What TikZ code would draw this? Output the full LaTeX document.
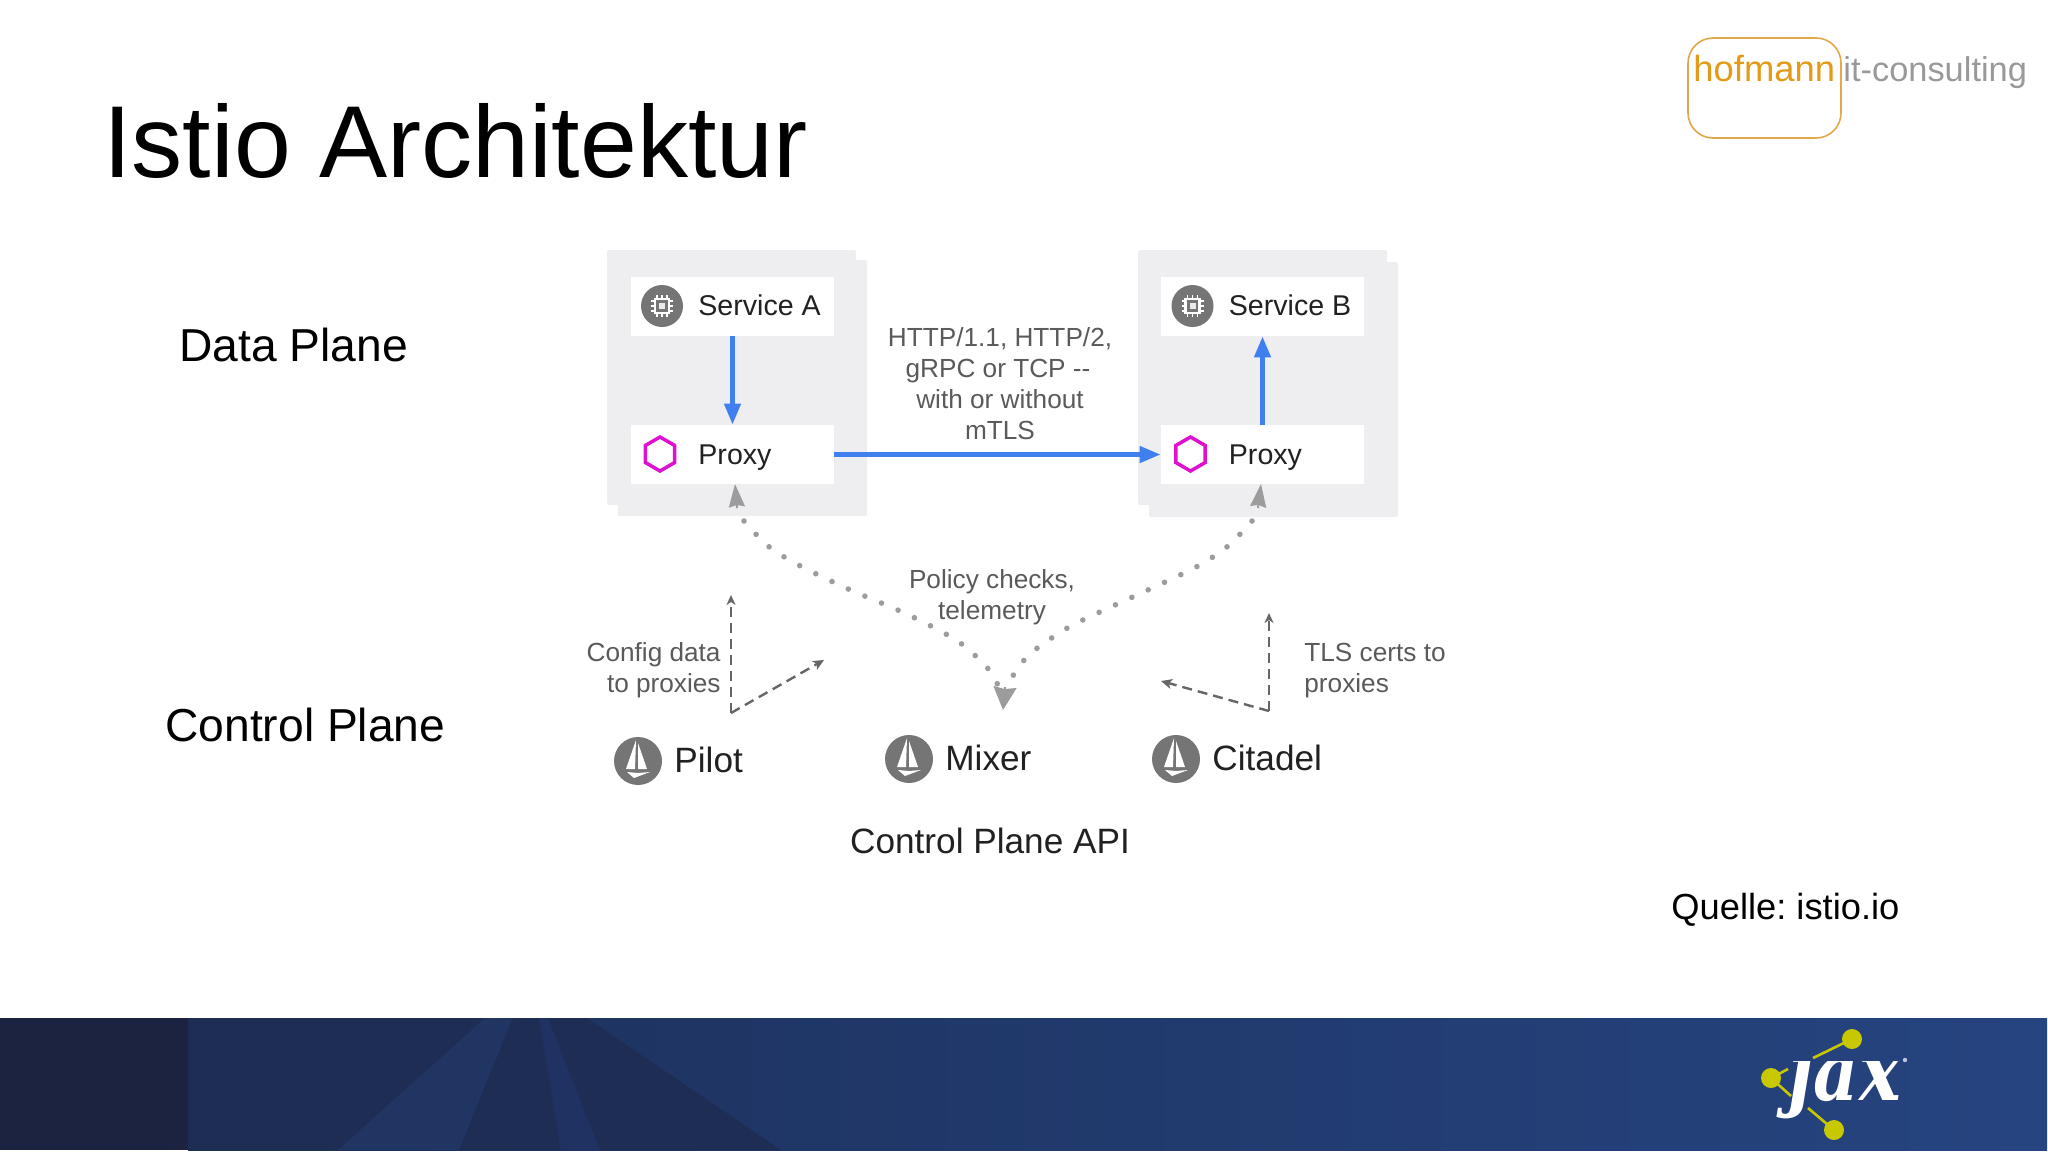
\documentclass[tikz,border=0pt]{standalone}
\usepackage{fontspec}
\setmainfont{Liberation Sans}
\newfontfamily\jaxfont{DejaVu Serif}
\usetikzlibrary{arrows.meta,shadings}
\frenchspacing
\definecolor{plate}{HTML}{EEEEF0}
\definecolor{bluearr}{HTML}{4080EE}
\definecolor{grayarr}{HTML}{9C9C9C}
\definecolor{dashgray}{HTML}{666666}
\definecolor{icongray}{HTML}{757575}
\definecolor{hexmag}{HTML}{E010D0}
\definecolor{inktext}{HTML}{212121}
\definecolor{softtext}{HTML}{5A5A5A}
\definecolor{logoor}{HTML}{E39A17}
\definecolor{logoline}{HTML}{E0A84A}
\definecolor{logogray}{HTML}{999999}
\definecolor{jaxyel}{HTML}{C8C800}
\definecolor{bandL}{HTML}{1C305A}
\definecolor{bandR}{HTML}{264480}
\definecolor{bandA}{HTML}{1B2340}
\definecolor{bandB}{HTML}{1E2D54}
\definecolor{bandC}{HTML}{203561}
\definecolor{bandD}{HTML}{1E2D53}
\definecolor{bandE}{HTML}{203261}
\definecolor{jaxdot}{HTML}{BBC4E0}
\newcommand{\fsz}[1]{\fontsize{#1}{#1}\selectfont}
\tikzset{
  platebox/.style={fill=plate,rounded corners=1pt},
  cardbox/.style={fill=white,inner sep=0pt,minimum width=101.5pt,minimum height=29.5pt},
  lbl/.style={inner sep=0pt,anchor=base west},
  slidelbl/.style={lbl,text=black,font=\fsz{23.1}},
  svclbl/.style={lbl,text=inktext,font=\fsz{14.3}},
  ctrllbl/.style={lbl,text=inktext,font=\fsz{17.6}},
  softlbl/.style={inner sep=0pt,text=softtext,font=\fsz{13.1}},
  bluearrow/.style={draw=bluearr,line width=2.3pt,-{Triangle[length=10.5pt,width=8pt]}},
  grayhead/.style={draw=grayarr,line width=1pt,-{Stealth[length=11.5pt,width=#1,inset=1pt]}},
  dotline/.style={draw=grayarr,line width=2.8pt,line cap=round,dash pattern=on 0pt off 9pt},
  dashthin/.style={draw=dashgray,line width=.8pt,dash pattern=on 5pt off 3pt,-{Stealth[length=5pt,width=4.5pt,inset=1.5pt]}},
  dashthick/.style={draw=dashgray,line width=1.2pt,dash pattern=on 5pt off 3pt,-{Stealth[length=5.5pt,width=5pt,inset=1.5pt]}},
  boaticon/.pic={
    \fill[icongray] (0,0) circle (24);
    \fill[white] (-2,-21) -- (-12,8) -- (-3,8) -- cycle;
    \fill[white] (0,-18) -- (0,8) -- (9,8) -- cycle;
    \fill[white] (-11,11) -- (0,12) -- (12,11) -- (-4,17) -- cycle;
  },
  chipicon/.pic={
    \fill[icongray] (0,0) circle (21);
    \draw[white,line width=1.2pt] (-7,-7) rectangle (7,7);
    \fill[white!85!icongray] (-3,-3) rectangle (3,3);
    \foreach \d in {-5,0,5}{
      \draw[white,line width=.8pt] (\d,-7) -- (\d,-11) (\d,7) -- (\d,11) (-7,\d) -- (-11,\d) (7,\d) -- (11,\d);
    }
  },
  hexicon/.pic={
    \draw[hexmag,line width=1.75pt,line join=miter] (0,-17) -- (14.7,-8.5) -- (14.7,8.5) -- (0,17) -- (-14.7,8.5) -- (-14.7,-8.5) -- cycle;
  }
}
\begin{document}
\begin{tikzpicture}[x=.5pt,y=-.5pt]
\useasboundingbox (0,0) rectangle (2048,1152);
% banner
\fill[left color=bandL,right color=bandR] (188,1018) rectangle (2047,1150);
\fill[bandA] (0,1018) rectangle (188,1150);
\fill[bandB] (188,1018) -- (485,1018) -- (338,1150) -- (188,1150) -- cycle;
\fill[bandC] (485,1018) -- (513,1018) -- (459,1150) -- (338,1150) -- cycle;
\fill[bandD] (513,1018) -- (539,1018) -- (561,1150) -- (459,1150) -- cycle;
\fill[bandE] (539,1018) -- (548,1018) -- (600,1150) -- (561,1150) -- cycle;
\fill[bandD] (548,1018) -- (587,1018) -- (781,1150) -- (600,1150) -- cycle;
% jax logo
\coordinate (jt) at (1852,1039);
\coordinate (jl) at (1771,1078);
\coordinate (jb) at (1834,1130);
\draw[jaxyel,line width=1.3pt] (1813,1058) -- (jt);
\draw[jaxyel,line width=1.3pt] (1788,1069) -- (jl) -- (1791,1096);
\draw[jaxyel,line width=1.3pt] (1808,1108) -- (jb);
\fill[jaxyel] (jt) circle (10) (jl) circle (10) (jb) circle (10);
\begin{scope}
\clip (1770,1061) rectangle (1925,1135);
\node[lbl,text=white,font={\jaxfont\bfseries\itshape\fsz{34}}] (jaxtext) at (1788,1100) {\scalebox{1.03}[1.22]{jax}};
\end{scope}
\fill[jaxdot] (1905,1060) circle (2.2);
% title and side labels
\node[lbl,text=black,font=\fsz{51.1}] (title) at (103,177) {Istio Architektur};
\node[slidelbl] (dataplane) at (179,361) {Data Plane};
\node[slidelbl] (controlplane) at (165,741) {Control Plane};
\node[lbl,text=black,font=\fsz{18.15}] (quelle) at (1671,919) {Quelle: istio.io};
% company logo
\draw[logoline,line width=.8pt,rounded corners=12.5pt] (1688,38) rectangle (1841,138);
\node[lbl,text=logoor,font=\fsz{18.2}] (hofmann) at (1693,81) {hofmann};
\node[lbl,text=logogray,font=\fsz{17.2}] (consulting) at (1843,81) {it-consulting};
% plates
\fill[platebox] (618,260) rectangle (867,516);
\fill[platebox] (607,250) rectangle (856,505);
\fill[platebox] (1149,262) rectangle (1398,517);
\fill[platebox] (1138,250) rectangle (1387,505);
% cards
\node[cardbox] (svcA) at (732.5,306.5) {};
\node[cardbox] (proxyA) at (732.5,454.5) {};
\node[cardbox] (svcB) at (1262.5,306.5) {};
\node[cardbox] (proxyB) at (1262.5,454.5) {};
\pic at (662,306) {chipicon};
\pic at (1192.5,306) {chipicon};
\pic at (660,454) {hexicon};
\pic at (1190.5,454) {hexicon};
\node[svclbl] (svcAt) at (698,315.5) {Service A};
\node[svclbl] (svcBt) at (1228.5,315.5) {Service B};
\node[svclbl] (proxyAt) at (698,464) {Proxy};
\node[svclbl] (proxyBt) at (1228.5,464) {Proxy};
% blue connectors
\draw[bluearrow] (svcA.south) -- (proxyA.north);
\draw[bluearrow] (proxyB.north) -- (svcB.south);
\draw[bluearrow] (proxyA.east) -- (proxyB.west);
% http label
\node[softlbl,anchor=base] (http1) at (1000,346) {HTTP/1.1, HTTP/2,};
\node[softlbl,anchor=base] (http2) at (998,377) {gRPC or TCP {-}{-}};
\node[softlbl,anchor=base] (http3) at (1000,408) {with or without};
\node[softlbl,anchor=base] (http4) at (1000,439) {mTLS};
% control-plane icons
\pic at (638,761) {boaticon};
\pic at (909,759) {boaticon};
\pic at (1176,759) {boaticon};
\node[ctrllbl] (pilot) at (674,772) {Pilot};
\node[ctrllbl] (mixer) at (945,770) {Mixer};
\node[ctrllbl] (citadel) at (1212,770) {Citadel};
\node[ctrllbl,anchor=base] (api) at (990,853) {Control Plane API};
% dotted connectors
\coordinate (gaBase) at (737,508);
\coordinate (gaTip) at (735,484);
\coordinate (gbBase) at (1258,508);
\coordinate (gbTip) at (1261,484);
\coordinate (mxBase) at (1005,687);
\coordinate (mxTip) at (1003,710);
\draw[dotline] plot[smooth] coordinates {(744,521) (768,546) (798.5,565) (846,588) (895.5,609) (927,624) (959,642) (985,665) (995,680) (1002,692)};
\draw[dotline] plot[smooth] coordinates {(1252,521) (1228,546) (1198,566) (1150,589) (1102,611) (1069,627) (1040,646) (1026,658) (1015,672) (1006,692)};
\draw[grayhead=8pt] (gaBase) -- (gaTip);
\draw[grayhead=8pt] (gbBase) -- (gbTip);
\draw[grayhead=11.5pt] (mxBase) -- (mxTip);
% policy label
\node[softlbl,anchor=base] (policy1) at (992,588) {Policy checks,};
\node[softlbl,anchor=base] (policy2) at (992,619) {telemetry};
% dashed arrows
\coordinate (pc) at (731,713);
\coordinate (pu) at (731,595);
\coordinate (pd) at (824,660);
\coordinate (cc) at (1269,711);
\coordinate (cu) at (1269,613);
\coordinate (cd) at (1161,681);
\draw[dashthin] (pc) -- (pu);
\draw[dashthick] (pc) -- (pd);
\draw[dashthin] (cc) -- (cu);
\draw[dashthick] (cc) -- (cd);
\node[softlbl,anchor=base east] (cfg1) at (721,661) {Config data};
\node[softlbl,anchor=base east] (cfg2) at (721,692) {to proxies};
\node[softlbl,anchor=base west] (tls1) at (1304,661) {TLS certs to};
\node[softlbl,anchor=base west] (tls2) at (1304,692) {proxies};
\end{tikzpicture}
\end{document}
